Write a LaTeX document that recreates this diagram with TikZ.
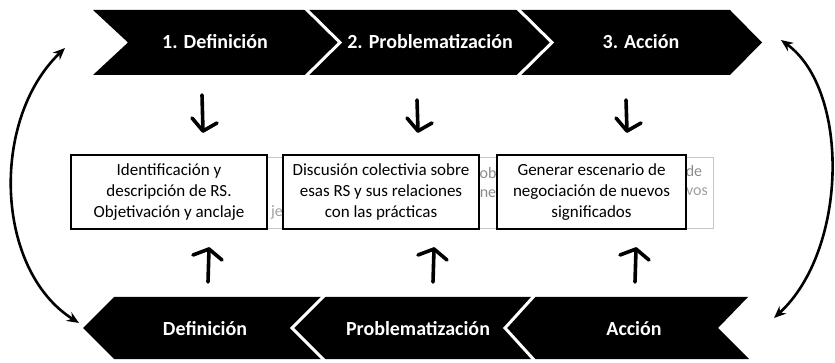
\documentclass[tikz,border=0pt]{standalone}
\usepackage{fontspec}
\setmainfont{Carlito}
\usetikzlibrary{arrows.meta}
\begin{document}
\begin{tikzpicture}[x=1pt,y=-1pt,
  band/.style={fill=black},
  sep/.style={draw=white,line width=3pt},
  head/.style={text=white,font=\fontsize{20}{24}\selectfont\bfseries,inner sep=0pt},
  box/.style={draw=black,fill=white,line width=1.1pt,align=center,font=\fontsize{17}{20.7}\selectfont,minimum height=74pt,inner sep=0pt},
  ghostbox/.style={draw=gray!45,line width=0.8pt},
  ghost/.style={text=gray!75,font=\fontsize{16}{19}\selectfont,inner sep=0pt},
  hand/.style={line width=3.6pt,line cap=round,line join=round},
  loop/.style={line width=2.6pt,{Stealth[length=12pt,width=10pt]}-{Stealth[length=12pt,width=10pt]}}
]
\useasboundingbox (0,0) rectangle (835,363);
% top band
\path[band] (93,10) -- (730,10) -- (762,42.5) -- (730,75) -- (93,75) -- (128,42.5) -- cycle;
\draw[sep] (305,8) -- (340,42.5) -- (305,77);
\draw[sep] (517,8) -- (552,42.5) -- (517,77);
\node[head] (t1) at (215,42) {1. Definición};
\node[head] (t2) at (430,42) {2. Problematización};
\node[head] (t3) at (641,42) {3. Acción};
% bottom band
\path[band] (83,328) -- (114,297) -- (748,297) -- (718,328) -- (749,359) -- (114,359) -- cycle;
\draw[sep] (325,295) -- (292,328) -- (325,361);
\draw[sep] (535,295) -- (505,328) -- (535,361);
\node[head] (u1) at (205,329) {Definición};
\node[head] (u2) at (418,329) {Problematización};
\node[head] (u3) at (634,329) {Acción};
% ghost background
\draw[ghostbox] (267,157) rectangle (713,228);
\node[ghost] (g1) at (277,212) {je};
\node[ghost,text=gray!90] (g2) at (488,173) {ob};
\node[ghost,text=gray!90] (g3) at (488,194) {ne};
\node[ghost,text=gray!90] (g4) at (694,171) {de};
\node[ghost] (g5) at (697,192) {vos};
% boxes
\node[box,minimum width=196pt] (b1) at (169,192) {Identificación y\\descripción de RS.\\Objetivación y anclaje};
\node[box,minimum width=196pt] (b2) at (381,192) {Discusión colectivia sobre\\esas RS y sus relaciones\\con las prácticas};
\node[box,minimum width=189pt] (b3) at (591.5,192) {Generar escenario de\\negociación de nuevos\\significados};
% hand-drawn down arrows
\foreach \x/\yt in {202/95, 417/100, 626/100}{
  \draw[hand] (\x,\yt) -- (\x+1,131);
  \draw[hand] (\x-10,118) -- (\x+1,131) -- (\x+15,123);
}
% hand-drawn up arrows
\foreach \x in {208, 433, 635}{
  \draw[hand] (\x,282) -- (\x+1,249);
  \draw[hand] (\x-15,255) -- (\x+1,249) -- (\x+14,260);
}
% loop arrows
\coordinate (la) at (65,48);
\coordinate (lb) at (79,323);
\draw[loop] (la) .. controls (-10,120) and (-5,270) .. (lb);
\coordinate (ra) at (781,40);
\coordinate (rb) at (774,318);
\draw[loop] (ra) .. controls (850,90) and (848,250) .. (rb);
\end{tikzpicture}
\end{document}
